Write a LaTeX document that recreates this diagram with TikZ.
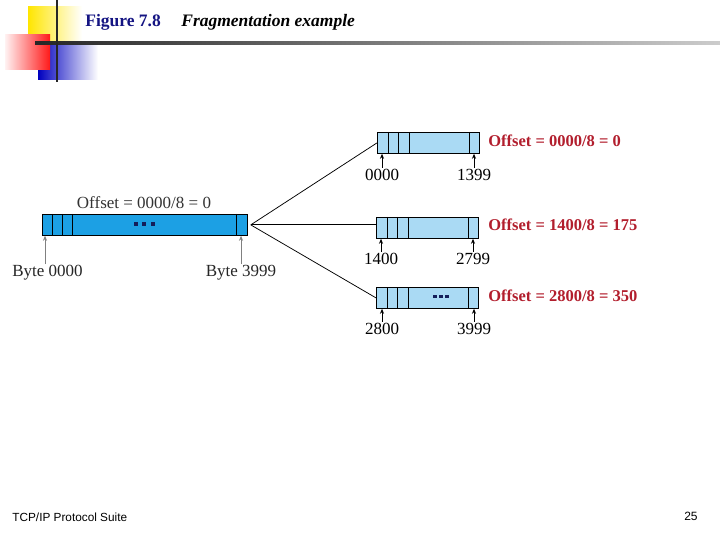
\documentclass[tikz,border=0pt]{standalone}
\usepackage{fontspec}
\setmainfont{Liberation Serif}
\setsansfont{Liberation Sans}
\usetikzlibrary{arrows.meta,positioning,calc}
\tikzset{every picture/.style={line width=0.75pt}}
\definecolor{pktblue}{RGB}{28,160,228}
\definecolor{fragblue}{RGB}{170,218,244}
\definecolor{offred}{RGB}{178,30,45}
\definecolor{titleblue}{RGB}{20,20,130}
\definecolor{dotblue}{RGB}{20,30,90}

\begin{document}
\begin{tikzpicture}[x=1pt,y=-1pt,
    >={Stealth[length=5pt,width=4pt]},
    lbl/.style={font=\fontsize{17}{20}\selectfont, inner sep=1pt},
    offlbl/.style={font=\fontsize{16.5}{20}\selectfont\bfseries, text=offred, anchor=west, inner sep=0pt},
    bigbar/.style={draw, fill=pktblue, minimum width=205, minimum height=21, anchor=north west, inner sep=0pt},
    fragbar/.style={draw, fill=fragblue, minimum width=102, minimum height=21, anchor=north west, inner sep=0pt}]
    \useasboundingbox (0,0) rectangle (720,540);

    % slide decoration
    \shade[left color=yellow!80!orange, right color=white] (28,7) rectangle (82,42);
    \shade[left color=blue!75!black, right color=white] (38,45) rectangle (98,80);
    \shade[left color=red!5, right color=red!90] (5,35) rectangle (50,70);
    \shade[left color=black!85, right color=black!20] (35,42) rectangle (720,45);
    \draw[line width=2.5pt, black!85] (57,0) -- (57,82);

    % title
    \node[anchor=west, inner sep=0pt, text=titleblue, font=\fontsize{17.5}{20}\selectfont\bfseries] (fig) at (85,22) {Figure 7.8};
    \node[anchor=west, inner sep=0pt, font=\fontsize{17.5}{20}\selectfont\bfseries\itshape] (caption) at (181,22) {Fragmentation example};

    % original datagram
    \node[bigbar] (orig) at (42,214) {};
    \foreach \d in {10,20,30,194}
        \draw ([xshift=\d]orig.north west) -- ([xshift=\d]orig.south west);
    \coordinate (origdots) at (144,224);
    \foreach \i in {-1,0,1}
        \fill[dotblue] ($(origdots)+(\i*8.5,0)$) +(-2,-1.6) rectangle +(2,1.6);
    \node[lbl, text=black!80] (origoff) at (144,203) {Offset = 0000/8 = 0};
    \node[lbl, text=black!85] (b0) at (47.5,273) {Byte 0000};
    \node[lbl, text=black!85] (b1) at (241,273) {Byte 3999};
    \draw[->, gray] ([xshift=-2.5]b0.north) -- ([xshift=-2.5]b0.north |- orig.south);
    \draw[->, gray] (b1.north) -- (b1.north |- orig.south);

    % fragments
    \node[fragbar] (frag1) at (377,132) {};
    \node[fragbar] (frag2) at (376,217) {};
    \node[fragbar] (frag3) at (376,287) {};
    \foreach \f in {frag1,frag2,frag3}
        \foreach \d in {11,21,32,92}
            \draw ([xshift=\d]\f.north west) -- ([xshift=\d]\f.south west);
    \coordinate (fragdots) at (441,296.5);
    \foreach \i in {-1,0,1}
        \fill[dotblue] ($(fragdots)+(\i*6,0)$) +(-1.6,-1.4) rectangle +(1.6,1.4);

    % offsets
    \node[offlbl] (off1) at (488,141) {Offset = 0000/8 = 0};
    \node[offlbl] (off2) at (488,225) {Offset = 1400/8 = 175};
    \node[offlbl] (off3) at (488,296) {Offset = 2800/8 = 350};

    % byte numbers
    \node[lbl] (f1a) at (382,175) {0000};
    \node[lbl] (f1b) at (474,175) {1399};
    \node[lbl] (f2a) at (381,259) {1400};
    \node[lbl] (f2b) at (473,259) {2799};
    \node[lbl] (f3a) at (382,329) {2800};
    \node[lbl] (f3b) at (474,329) {3999};
    \draw[->] (f1a.north) -- (f1a.north |- frag1.south);
    \draw[->] (f1b.north) -- (f1b.north |- frag1.south);
    \draw[->] (f2a.north) -- (f2a.north |- frag2.south);
    \draw[->] (f2b.north) -- (f2b.north |- frag2.south);
    \draw[->] (f3a.north) -- (f3a.north |- frag3.south);
    \draw[->] (f3b.north) -- (f3b.north |- frag3.south);

    % split lines
    \coordinate (fork) at ([xshift=3]orig.east);
    \draw (fork) -- (frag1.west);
    \draw (fork) -- (frag2.west |- fork);
    \draw (fork) -- (frag3.west);

    % footer
    \node[anchor=west, inner sep=0pt, font=\sffamily\fontsize{11.8}{13}\selectfont] (suite) at (12,517) {TCP/IP Protocol Suite};
    \node[anchor=east, inner sep=0pt, font=\sffamily\fontsize{12}{13}\selectfont] (page) at (698,516) {25};
\end{tikzpicture}
\end{document}
